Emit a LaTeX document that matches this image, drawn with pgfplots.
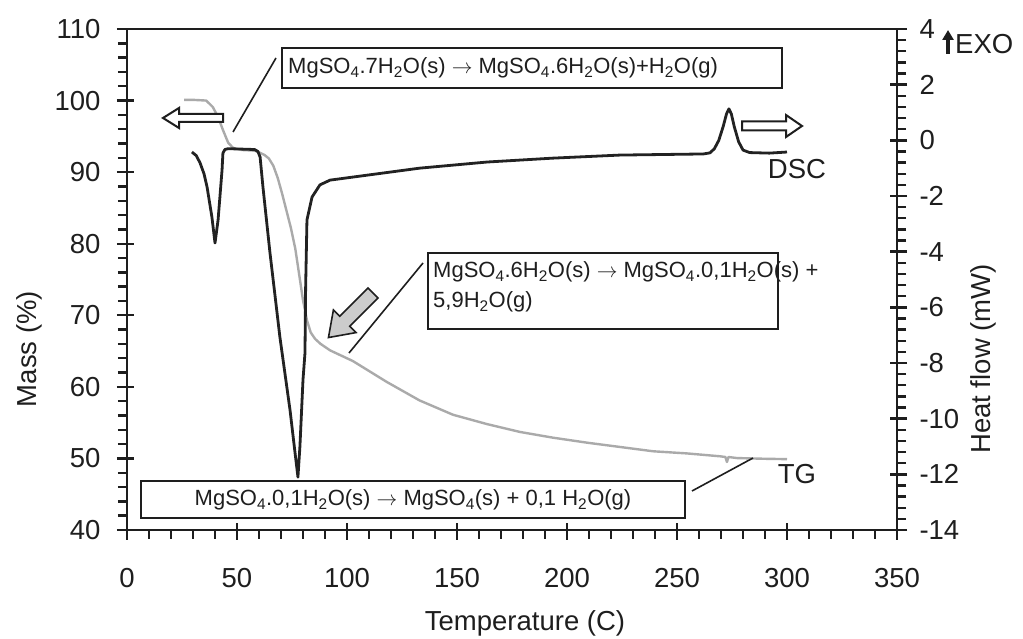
\documentclass[border=0pt]{standalone}
\usepackage{pgfplots}
\pgfplotsset{compat=1.18}
\usepackage{fontspec}
\setmainfont{Liberation Sans}
\usetikzlibrary{arrows.meta}
\definecolor{dsc}{HTML}{222222}
\definecolor{tg}{HTML}{AAAAAA}
\definecolor{ax}{HTML}{1E1E1E}
\definecolor{arrfill}{HTML}{CCCCCC}
\newcommand{\bigf}{\fontsize{27.5}{32}\selectfont}
\newcommand{\boxf}{\fontsize{22}{26}\selectfont}

\pgfplotstableread{
x y
26.0 100.1
30.0 100.1
36.0 100.0
39.0 99.1
41.4 97.7
43.6 95.9
46.0 94.1
48.2 93.4
52.0 93.1
58.0 93.0
60.5 92.7
62.5 92.4
64.5 91.9
66.5 90.9
68.5 89.2
70.5 87.0
72.5 84.6
74.5 82.2
76.5 79.3
78.5 75.2
80.0 72.1
81.8 69.3
83.5 67.6
85.5 66.7
88.0 66.0
92.3 65.1
102.7 63.6
118.0 60.7
133.0 58.1
148.2 56.1
163.6 54.8
178.6 53.7
193.6 52.9
209.1 52.2
224.1 51.6
239.1 51.0
254.5 50.7
269.5 50.3
272.0 50.2
272.7 49.5
273.4 50.2
277.3 50.05
290.0 49.95
300.0 49.9
}\tgdata

\pgfplotstableread{
x y
29.5 -0.42
31.5 -0.55
33.2 -0.81
35.0 -1.20
36.4 -1.68
38.6 -2.76
40.0 -3.69
41.4 -2.86
43.2 -1.07
43.6 -0.46
44.5 -0.33
46.0 -0.30
58.0 -0.33
59.5 -0.40
60.5 -0.60
61.8 -1.68
65.0 -4.05
69.5 -7.07
74.1 -9.69
76.4 -11.24
77.7 -12.10
78.6 -11.00
80.0 -8.60
80.9 -7.64
81.2 -5.27
81.8 -2.86
84.1 -2.04
87.7 -1.60
92.3 -1.43
102.7 -1.32
133.0 -1.00
163.6 -0.78
193.6 -0.64
224.0 -0.53
262.0 -0.49
265.0 -0.45
267.0 -0.30
269.0 0.00
271.0 0.50
272.5 0.95
273.6 1.13
274.7 0.95
276.0 0.50
278.0 -0.05
280.0 -0.35
283.0 -0.44
292.0 -0.46
300.0 -0.42
}\dscdata

\pgfplotsset{
  common/.style={
    at={(127pt,109pt)}, anchor=south west, scale only axis,
    width=770pt, height=501pt,
    xmin=0, xmax=350,
    axis line style={ax, line width=2.6pt},
    tick style={ax, line width=2.4pt},
    tick align=outside,
    major tick length=17pt, minor tick length=9pt,
    /pgf/number format/assume math mode=true,
    tick label style={font=\bigf, text=ax},
  }
}

\begin{document}
\begin{tikzpicture}[x=1pt,y=1pt]
\useasboundingbox (0,0) rectangle (1023,639);
\begin{axis}[common,
  ymin=40, ymax=110,
  xtick={0,50,...,350}, ytick={40,50,...,110},
  minor x tick num=4, minor y tick num=4,
  xtick pos=bottom, ytick pos=left,
  every major x tick/.append style={yshift=7pt},
  every major y tick/.append style={xshift=7pt},
  xticklabel style={yshift=-18pt},
  yticklabel style={xshift=-6pt},
]
\addplot[tg, line width=2.4pt, line join=round] table[x=x,y=y] {\tgdata};
\end{axis}
\begin{axis}[common,
  ymin=-14, ymax=4,
  axis x line=none, axis y line*=right,
  ytick={-14,-12,...,4},
  yticklabels={-14,-12,-10,-8,-6,-4,-2,0,2,4},
  minor y tick num=4,
  every major y tick/.append style={xshift=-7pt},
  yticklabel style={xshift=2pt},
]
\addplot[dsc, line width=2.8pt, line join=round] table[x=x,y=y] {\dscdata};
\end{axis}

% axis labels
\node[font=\bigf, text=ax] at (525,16) {Temperature (C)};
\node[font=\bigf, text=ax, rotate=90] at (29,290) {Mass (\%)};
\node[font=\bigf, text=ax, rotate=90] at (983,280) {Heat flow (mW)};

% EXO
\draw[ax, line width=3.2pt, -{Triangle[length=10pt,width=11pt]}] (948,585) -- (948,609);
\node[font=\bigf, text=ax, anchor=west, inner sep=0pt] at (955,595) {EXO};

% curve labels
\node[font=\bigf, text=ax] at (797,470) {DSC};
\node[font=\bigf, text=ax] at (797,165) {TG};

% hollow arrows
\draw[ax, line width=2pt, fill=white, line join=miter]
  (223,525) -- (179,525) -- (179,531) -- (163,521) -- (179,511) -- (179,517) -- (223,517) -- cycle;
\draw[ax, line width=2pt, fill=white, line join=miter]
  (742,517.5) -- (786,517.5) -- (786,524) -- (802,513) -- (786,502) -- (786,508.5) -- (742,508.5) -- cycle;

% grey block arrow
\begin{scope}[shift={(373,346)}, rotate=225]
\draw[ax, line width=1.6pt, fill=arrfill, line join=miter]
  (0,-7) -- (40,-7) -- (40,-16) -- (63,0) -- (40,16) -- (40,7) -- (0,7) -- cycle;
\end{scope}

% boxes
\draw[ax, line width=1.8pt] (282,551) rectangle (782,591);
\node[font=\boxf, text=ax, anchor=west, inner sep=0pt] at (288,571)
  {MgSO\textsubscript{4}.7H\textsubscript{2}O(s) $\rightarrow$ MgSO\textsubscript{4}.6H\textsubscript{2}O(s)+H\textsubscript{2}O(g)};
\draw[ax, line width=1.6pt] (276,581) -- (233,507);

\draw[ax, line width=1.8pt] (428,310) rectangle (778,386);
\node[font=\boxf, text=ax, anchor=west, inner sep=0pt] at (433,367)
  {MgSO\textsubscript{4}.6H\textsubscript{2}O(s) $\rightarrow$ MgSO\textsubscript{4}.0,1H\textsubscript{2}O(s) +};
\node[font=\boxf, text=ax, anchor=west, inner sep=0pt] at (433,337)
  {5,9H\textsubscript{2}O(g)};
\draw[ax, line width=1.6pt] (423,376) -- (349,286);

\draw[ax, line width=1.8pt] (141,121) rectangle (685,158);
\node[font=\boxf, text=ax, inner sep=0pt] at (413,139)
  {MgSO\textsubscript{4}.0,1H\textsubscript{2}O(s) $\rightarrow$ MgSO\textsubscript{4}(s) + 0,1 H\textsubscript{2}O(g)};
\draw[ax, line width=1.6pt] (692,148) -- (753,181);
\end{tikzpicture}
\end{document}
